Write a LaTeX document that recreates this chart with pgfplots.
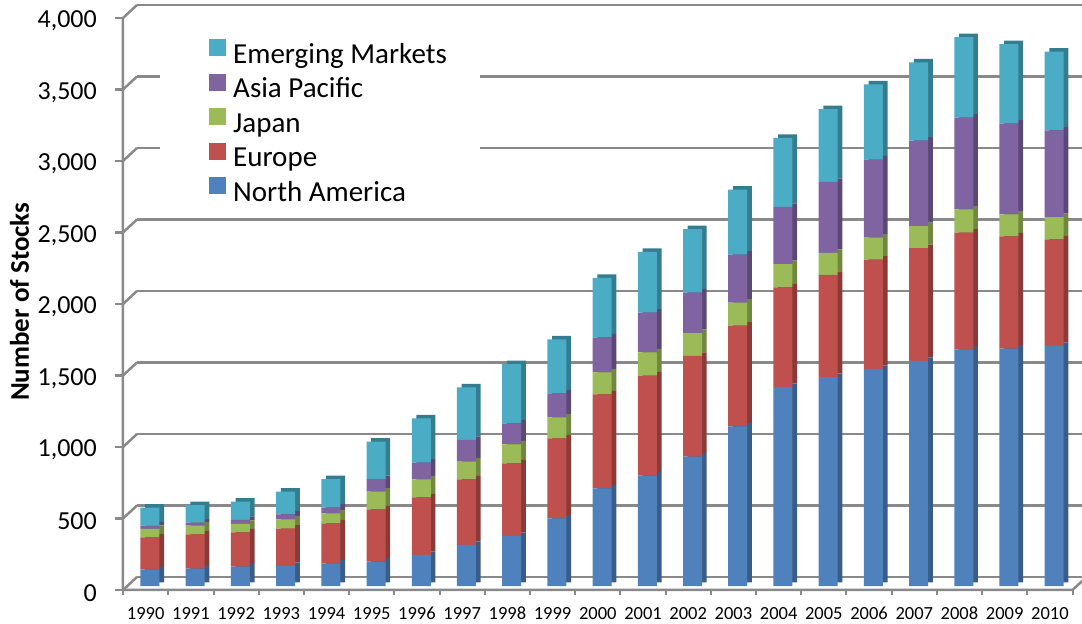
\documentclass[border=0pt]{standalone}
\usepackage{fontspec}
\setmainfont{Carlito}
\usepackage{pgfplots}
\pgfplotsset{compat=1.18}
\usepackage{pgfplotstable}
\definecolor{cNA}{HTML}{4F81BD}
\definecolor{cEU}{HTML}{C0504D}
\definecolor{cJP}{HTML}{9BBB59}
\definecolor{cAP}{HTML}{8064A2}
\definecolor{cEM}{HTML}{4BACC6}
\definecolor{gridc}{HTML}{898989}

\pgfplotstableread{
x NA EU JP AP EM
0 117 223 59 23 126
1 121 240 61 21 123
2 135 240 59 28 128
3 140 261 65 35 159
4 158 280 70 40 200
5 170 366 124 88 261
6 217 403 126 116 310
7 287 459 123 152 368
8 350 508 133 147 414
9 473 560 147 167 378
10 683 657 154 245 415
11 771 700 163 277 425
12 904 705 160 282 445
13 1117 704 161 335 455
14 1393 696 161 401 482
15 1460 715 155 496 508
16 1518 764 155 544 527
17 1575 787 155 598 546
18 1655 817 161 643 562
19 1660 785 153 635 557
20 1679 745 155 608 549
}\data

\pgfplotsset{base/.style={width=959pt,height=572pt,scale only axis,
  xmin=-0.502,xmax=20.71,ymin=0,ymax=4000,
  axis line style={draw=none}, anchor=south west},
  sq/.style={legend image code/.code={\fill[##1] (0pt,0pt) rectangle (17pt,17pt); \path[draw=none,fill=none] (0pt,0pt) rectangle (24pt,17pt);}}}

\begin{document}
\begin{tikzpicture}
\path[use as bounding box] (-123pt,-34pt) rectangle (959pt,590pt);
% back wall grid
\begin{axis}[base, at={(14pt,13pt)}, xtick=\empty, ytick={0,500,...,4000},
  yticklabels={}, major tick length=0pt, ymajorgrids,
  grid style={gridc,line width=2.5pt}]
\end{axis}
\foreach \v in {0,500,...,4000} \draw[gridc,line width=2.5pt] (0,\v*0.143pt) -- ++(14pt,13pt);
\draw[gridc,line width=2.5pt] (0,572pt) -- (0,0) -- (949.5pt,0) -- ++(14pt,13pt);
\foreach \k in {-1,...,20} \draw[gridc,line width=2pt] ({(\k+1.002)*45.21pt},0) -- ++(0,-5pt);
\fill[white] (37pt,385pt) rectangle (357pt,560pt);
% bar sides (back)
\begin{axis}[base, at={(9pt,7.5pt)}, ybar stacked, bar width=19pt, xtick=\empty, ytick=\empty]
\addplot[fill=cNA!72!black,draw=none] table[x=x,y=NA]{\data};
\addplot[fill=cEU!72!black,draw=none] table[x=x,y=EU]{\data};
\addplot[fill=cJP!72!black,draw=none] table[x=x,y=JP]{\data};
\addplot[fill=cAP!72!black,draw=none] table[x=x,y=AP]{\data};
\addplot[fill=cEM!72!black,draw=none] table[x=x,y=EM]{\data};
\end{axis}
% bar fronts
\begin{axis}[base, at={(4.3pt,4pt)}, ybar stacked, bar width=19pt, xtick=\empty, ytick=\empty,
  reverse legend,
  legend style={at={(axis description cs:0.0852,0.9565)}, anchor=north west, draw=none, fill=none,
    inner sep=0pt, font=\fontsize{29}{34}\selectfont, row sep=3.5pt,
    nodes={inner sep=0pt, text height=21pt, text depth=7pt}},
  legend cell align=left]
\addplot[fill=cNA,draw=none,sq] table[x=x,y=NA]{\data};
\addplot[fill=cEU,draw=none,sq] table[x=x,y=EU]{\data};
\addplot[fill=cJP,draw=none,sq] table[x=x,y=JP]{\data};
\addplot[fill=cAP,draw=none,sq] table[x=x,y=AP]{\data};
\addplot[fill=cEM,draw=none,sq] table[x=x,y=EM]{\data};
\legend{North America,Europe,Japan,Asia Pacific,Emerging Markets}
\end{axis}
% labels
\begin{axis}[base, at={(0pt,0pt)},
  xtick={0,...,20}, xticklabels={1990,1991,1992,1993,1994,1995,1996,1997,1998,1999,2000,2001,2002,2003,2004,2005,2006,2007,2008,2009,2010},
  xtick style={draw=none},
  xticklabel style={font=\fontsize{18.5}{21}\selectfont, inner sep=0pt, anchor=north, yshift=-9pt},
  ytick={0,500,...,4000}, ytick pos=left, tick align=outside, major tick length=8pt,
  ytick style={gridc,line width=2.5pt},
  yticklabel style={font=\fontsize{26}{31}\selectfont, inner sep=0pt, anchor=east, xshift=-18pt, yshift=-3pt,
    /pgf/number format/1000 sep={,}},
  /pgf/number format/assume math mode=true,
  ylabel={\bfseries Number of Stocks},
  ylabel style={font=\fontsize{27}{32}\selectfont, at={(axis description cs:-0.1079,0.504)}, anchor=center}]
\end{axis}
\end{tikzpicture}
\end{document}
